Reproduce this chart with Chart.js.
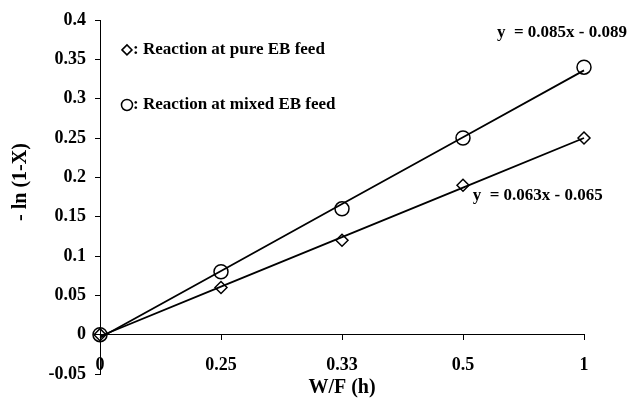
<!DOCTYPE html>
<html>
<head>
<meta charset="utf-8">
<script src="https://cdn.jsdelivr.net/npm/chart.js@4.4.1/dist/chart.umd.min.js"></script>
<style>
html,body{margin:0;padding:0;background:#fff;}
#wrap{width:630px;height:401px;}
</style>
</head>
<body>
<div id="wrap"><canvas id="c" width="630" height="401"></canvas></div>
<script>
const categories = ['0', '0.25', '0.33', '0.5', '1'];
const pureEB = [0, 0.06, 0.12, 0.19, 0.25];
const mixedEB = [0, 0.08, 0.16, 0.25, 0.34];
const trendPure = [-0.002, 0.061, 0.124, 0.187, 0.250];
const trendMixed = [-0.004, 0.081, 0.166, 0.251, 0.336];
const eqPure = 'y  = 0.063x - 0.065';
const eqMixed = 'y  = 0.085x - 0.089';
const legendPure = ': Reaction at pure EB feed';
const legendMixed = ': Reaction at mixed EB feed';
const yMin = -0.05, yMax = 0.4, yStep = 0.05;

const FONT = 'Liberation Serif, Times New Roman, serif';

const annot = {
  id: 'annot',
  afterDatasetsDraw(chart) {
    const ctx = chart.ctx;
    const xs = chart.scales.x, ys = chart.scales.y;
    ctx.save();
    ctx.font = 'bold 17px ' + FONT;
    ctx.textBaseline = 'middle';
    ctx.textAlign = 'left';
    // legend
    const lx = xs.getPixelForValue(0.223);
    const y1 = ys.getPixelForValue(0.362), y2 = ys.getPixelForValue(0.292);
    ctx.lineWidth = 1.5; ctx.strokeStyle = '#000'; ctx.fillStyle = '#fff';
    Chart.helpers.drawPoint(ctx, {pointStyle: 'rectRot', radius: 5, borderWidth: 1.5}, lx, y1);
    Chart.helpers.drawPoint(ctx, {pointStyle: 'circle', radius: 5.5, borderWidth: 1.5}, lx, y2);
    ctx.fillStyle = '#000';
    ctx.fillText(legendPure, lx + 6, y1);
    ctx.fillText(legendMixed, lx + 6, y2);
    // equations
    ctx.fillText(eqMixed, xs.getPixelForValue(3.28), ys.getPixelForValue(0.384));
    ctx.fillText(eqPure, xs.getPixelForValue(3.08), ys.getPixelForValue(0.177));
    ctx.restore();
  }
};

new Chart(document.getElementById('c'), {
  type: 'line',
  data: {
    labels: categories,
    datasets: [
      {label: 'pure', data: pureEB, showLine: false, pointStyle: 'rectRot', pointRadius: 6, pointHoverRadius: 6,
       pointBackgroundColor: 'rgba(0,0,0,0)', pointBorderColor: '#000', pointBorderWidth: 1.5, clip: false},
      {label: 'mixed', data: mixedEB, showLine: false, pointStyle: 'circle', pointRadius: 7, pointHoverRadius: 7,
       pointBackgroundColor: 'rgba(0,0,0,0)', pointBorderColor: '#000', pointBorderWidth: 1.5, clip: false},
      {label: 'trendPure', data: trendPure, pointRadius: 0, borderColor: '#000', borderWidth: 1.8, fill: false, tension: 0, clip: false},
      {label: 'trendMixed', data: trendMixed, pointRadius: 0, borderColor: '#000', borderWidth: 1.8, fill: false, tension: 0, clip: false}
    ]
  },
  options: {
    responsive: false,
    animation: false,
    events: [],
    layout: {padding: {left: 0, right: 46, top: 20, bottom: 27}},
    plugins: {legend: {display: false}, tooltip: {enabled: false}},
    scales: {
      x: {
        type: 'category', position: {y: 0}, offset: false,
        grid: {drawOnChartArea: false, drawTicks: true, tickLength: 5, color: '#000', lineWidth: 1},
        border: {display: true, color: '#000', width: 1},
        ticks: {display: false}
      },
      x2: {
        type: 'category', position: {y: -0.015}, offset: false,
        grid: {display: false}, border: {display: false},
        ticks: {color: '#000', font: {family: FONT, size: 18, weight: 'bold'}, padding: 0, maxRotation: 0, autoSkip: false},
        title: {display: true, text: 'W/F (h)', color: '#000', font: {family: FONT, size: 20, weight: 'bold'}, padding: {top: 0, bottom: 0}}
      },
      y: {
        min: yMin, max: yMax,
        afterFit(s) { s.width = 100; },
        grid: {drawOnChartArea: false, drawTicks: true, tickLength: 5, color: '#000', lineWidth: 1},
        border: {display: true, color: '#000', width: 1},
        ticks: {stepSize: yStep, color: '#000', font: {family: FONT, size: 18, weight: 'bold'}, padding: 9,
          callback: v => String(Number(v.toFixed(2)))},
        title: {display: true, text: '      - ln (1-X)', color: '#000', font: {family: FONT, size: 20, weight: 'bold'}, padding: {top: 9, bottom: 0}}
      }
    }
  },
  plugins: [annot]
});
</script>
</body>
</html>
